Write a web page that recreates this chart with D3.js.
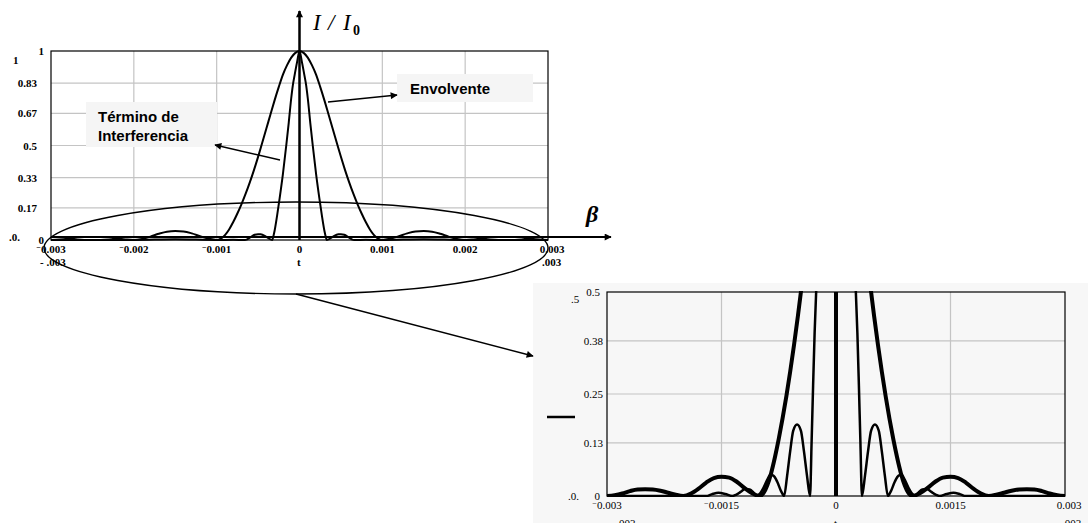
<!DOCTYPE html>
<html>
<head>
<meta charset="utf-8">
<script src="https://cdn.jsdelivr.net/npm/d3@7"></script>
<style>
  body { margin: 0; background: #fff; }
  svg { display: block; }
  .tick { font-family: "Liberation Serif", "DejaVu Serif", serif; font-size: 11px; fill: #000; }
  .bold { font-weight: bold; }
  .note { font-family: "Liberation Sans", Arial, sans-serif; font-size: 15px; font-weight: bold; fill: #000; }
</style>
</head>
<body>
<div id="chart"></div>
<script>
// half curves (x >= 0), mirrored for x < 0 ; x in seconds
var envX = [0, 0.00005, 0.0001, 0.00015, 0.0002, 0.00025, 0.0003, 0.00035, 0.0004, 0.00045, 0.0005, 0.00055, 0.0006, 0.00065, 0.0007, 0.00075, 0.0008, 0.00085, 0.0009, 0.00095, 0.001,
    0.0011, 0.0012, 0.0013, 0.0014, 0.0015, 0.0016, 0.0017, 0.0018, 0.0019, 0.002, 0.0021, 0.0022, 0.0023, 0.0024, 0.0025, 0.0026, 0.0027, 0.0028, 0.0029, 0.003]
var envY = [1, 0.99, 0.965, 0.925, 0.875, 0.81, 0.74, 0.665, 0.59, 0.515, 0.44, 0.37, 0.305, 0.245, 0.19, 0.14, 0.095, 0.056, 0.026, 0.007, 0,
    0.007, 0.02, 0.035, 0.045, 0.047, 0.044, 0.033, 0.018, 0.006, 0, 0.003, 0.008, 0.013, 0.016, 0.0165, 0.016, 0.012, 0.006, 0.002, 0]

// interference term in the main plot
var termX = [0, 0.00003, 0.00006, 0.00008, 0.0001, 0.00013, 0.00016, 0.0002, 0.00024, 0.00027, 0.0003, 0.00032, 0.00033,
    0.00037, 0.00042, 0.00047, 0.0005, 0.00054, 0.00059, 0.00063, 0.00066, 0.0008, 0.001, 0.0015, 0.002, 0.003]
var termY = [1, 0.94, 0.87, 0.82, 0.75, 0.62, 0.5, 0.35, 0.22, 0.13, 0.05, 0.012, 0,
    0.008, 0.022, 0.03, 0.031, 0.028, 0.015, 0.004, 0, 0.001, 0, 0.004, 0, 0]

// interference term in the zoomed plot
var zoomX = [0, 0.0001, 0.00015, 0.0002, 0.00024, 0.00026, 0.00028, 0.0003, 0.00032, 0.00034,
    0.00038, 0.00042, 0.00046, 0.00051, 0.00056, 0.0006, 0.00064, 0.00068,
    0.00072, 0.00077, 0.00082, 0.00086, 0.0009, 0.00095, 0.001, 0.00104,
    0.00108, 0.00113, 0.00119, 0.00125, 0.00131, 0.00136, 0.00145, 0.00154, 0.00163, 0.0017, 0.002, 0.003]
var zoomY = [1, 0.93, 0.85, 0.72, 0.56, 0.5, 0.4, 0.27, 0.13, 0,
    0.05, 0.11, 0.16, 0.175, 0.16, 0.11, 0.05, 0,
    0.012, 0.035, 0.05, 0.052, 0.04, 0.02, 0.005, 0,
    0.008, 0.016, 0.017, 0.01, 0.003, 0, 0.005, 0.008, 0.004, 0, 0, 0]

var mainYTicks = [0, 0.17, 0.33, 0.5, 0.67, 0.83, 1]
var mainYLabels = ["0", "0.17", "0.33", "0.5", "0.67", "0.83", "1"]
var mainXTicks = [-0.003, -0.002, -0.001, 0, 0.001, 0.002, 0.003]
var mainXLabels = ["-0.003", "-0.002", "-0.001", "0", "0.001", "0.002", "0.003"]
var zoomYTicks = [0, 0.13, 0.25, 0.38, 0.5]
var zoomYLabels = ["0", "0.13", "0.25", "0.38", "0.5"]
var zoomXTicks = [-0.003, -0.0015, 0, 0.0015, 0.003]
var zoomXLabels = ["-0.003", "-0.0015", "0", "0.0015", "0.003"]

function mirror(xs, ys) {
    var pts = []
    for (var i = xs.length - 1; i > 0; i--) pts.push([-xs[i], ys[i]])
    for (var j = 0; j < xs.length; j++) pts.push([xs[j], ys[j]])
    return pts
}

var W = 1088, H = 523

var svg = d3.select("#chart").append("svg")
    .attr("width", W)
    .attr("height", H)

var defs = svg.append("defs")
defs.append("marker")
    .attr("id", "arr")
    .attr("viewBox", "0 0 10 10")
    .attr("refX", 9).attr("refY", 5)
    .attr("markerWidth", 9).attr("markerHeight", 7)
    .attr("markerUnits", "userSpaceOnUse")
    .attr("orient", "auto")
    .append("path").attr("d", "M0,0 L10,5 L0,10 Z").attr("fill", "#000")

// zoomed region background
svg.append("rect")
    .attr("x", 533).attr("y", 283)
    .attr("width", W - 533).attr("height", H - 283)
    .attr("fill", "#f7f7f7")

// label with raised minus like the original
function tickLabel(g, txt, x, y, cls) {
    var t = g.append("text").attr("class", cls).attr("x", x).attr("y", y).attr("text-anchor", "middle")
    if (txt[0] === "-") {
        t.append("tspan").attr("font-size", "8px").attr("dy", -3).text("\u2212")
        t.append("tspan").attr("dy", 3).text(txt.slice(1))
    } else {
        t.text(txt)
    }
    return t
}

function drawPlot(opt) {
    var x = d3.scaleLinear().domain([-0.003, 0.003]).range([opt.left, opt.right])
    var y = d3.scaleLinear().domain([0, opt.ymax]).range([opt.bottom, opt.top])
    var g = svg.append("g")

    g.append("rect")
        .attr("x", opt.left).attr("y", opt.top)
        .attr("width", opt.right - opt.left).attr("height", opt.bottom - opt.top)
        .attr("fill", opt.bg)

    g.selectAll(".hg").data(opt.yTicks.slice(1, -1)).enter().append("line")
        .attr("x1", opt.left).attr("x2", opt.right)
        .attr("y1", function (d) { return y(d) }).attr("y2", function (d) { return y(d) })
        .attr("stroke", "#c4c4c4").attr("stroke-width", 1.2)

    g.selectAll(".vg").data(opt.xGrid).enter().append("line")
        .attr("x1", function (d) { return x(d) }).attr("x2", function (d) { return x(d) })
        .attr("y1", opt.top).attr("y2", opt.bottom)
        .attr("stroke", "#c4c4c4").attr("stroke-width", 1.2)

    g.append("rect")
        .attr("x", opt.left).attr("y", opt.top)
        .attr("width", opt.right - opt.left).attr("height", opt.bottom - opt.top)
        .attr("fill", "none").attr("stroke", "#000").attr("stroke-width", 1.2)

    g.append("defs").append("clipPath").attr("id", opt.id)
        .append("rect")
        .attr("x", opt.left).attr("y", opt.top - 1)
        .attr("width", opt.right - opt.left).attr("height", opt.bottom - opt.top + 2)

    var line = d3.line()
        .x(function (d) { return x(d[0]) })
        .y(function (d) { return y(d[1]) })
        .curve(d3.curveMonotoneX)

    var cg = g.append("g").attr("clip-path", "url(#" + opt.id + ")")
    opt.series.forEach(function (s) {
        cg.append("path")
            .attr("d", line(s.pts))
            .attr("fill", "none")
            .attr("stroke", "#000")
            .attr("stroke-width", s.w)
            .attr("stroke-linejoin", "round")
    })

    // y labels
    opt.yTicks.forEach(function (v, i) {
        var ends = (i === 0 || i === opt.yTicks.length - 1)
        g.append("text").attr("class", opt.cls)
            .attr("x", ends ? opt.left - 7 : opt.left - 14 + opt.ySh)
            .attr("y", y(v) + 4)
            .attr("text-anchor", "end")
            .text(opt.yLabels[i])
    })
    // x labels
    opt.xTicks.forEach(function (v, i) {
        tickLabel(g, opt.xLabels[i], x(v) + (i === opt.xTicks.length - 1 ? 4 : 0), opt.bottom + 13, opt.cls)
    })
    return { x: x, y: y, g: g }
}

// main plot
var main = drawPlot({
    id: "clipMain", left: 51, right: 548, top: 51, bottom: 240, ymax: 1, bg: "#fff",
    yTicks: mainYTicks, yLabels: mainYLabels, xTicks: mainXTicks, xLabels: mainXLabels,
    xGrid: [-0.002, -0.001, 0.001, 0.002], cls: "tick bold", ySh: 0,
    series: [
        { pts: mirror(envX, envY), w: 2 },
        { pts: mirror(termX, termY), w: 2 }
    ]
})

// zoomed plot
var zoom = drawPlot({
    id: "clipZoom", left: 607, right: 1065, top: 292, bottom: 496, ymax: 0.5, bg: "#f7f7f7",
    yTicks: zoomYTicks, yLabels: zoomYLabels, xTicks: zoomXTicks, xLabels: zoomXLabels,
    xGrid: [-0.0015, 0.0015], cls: "tick", ySh: 10,
    series: [
        { pts: mirror(envX, envY), w: 4 },
        { pts: mirror(zoomX, zoomY), w: 2.5 }
    ]
})
zoom.g.append("line")
    .attr("x1", zoom.x(0)).attr("x2", zoom.x(0))
    .attr("y1", zoom.y(0)).attr("y2", zoom.y(0.5))
    .attr("stroke", "#000").attr("stroke-width", 4)

// axis arrows of the main plot
svg.append("line")
    .attr("x1", main.x(-0.003)).attr("x2", 611)
    .attr("y1", 237).attr("y2", 237)
    .attr("stroke", "#000").attr("stroke-width", 2)
    .attr("marker-end", "url(#arr)")
svg.append("line")
    .attr("x1", main.x(0)).attr("x2", main.x(0))
    .attr("y1", 240).attr("y2", 11)
    .attr("stroke", "#000").attr("stroke-width", 2.5)
    .attr("marker-end", "url(#arr)")

var lab = svg.append("g")
    .attr("font-family", "Liberation Serif, serif")
    .attr("font-size", 23).attr("font-style", "italic")
lab.append("text").attr("x", 313).attr("y", 30).text("I")
lab.append("text").attr("x", 328).attr("y", 30).text("/")
lab.append("text").attr("x", 343).attr("y", 30).text("I")
lab.append("text").attr("x", 353).attr("y", 35)
    .attr("font-size", 14).attr("font-style", "normal").attr("font-weight", "bold").text("0")

svg.append("text")
    .attr("x", 586).attr("y", 222)
    .attr("font-family", "Liberation Serif, serif")
    .attr("font-size", 24).attr("font-style", "italic").attr("font-weight", "bold")
    .text("\u03B2")

// annotations
svg.append("rect").attr("x", 86).attr("y", 102).attr("width", 131).attr("height", 45).attr("fill", "#f5f5f5")
svg.append("text").attr("class", "note").attr("x", 98).attr("y", 122).text("Término de")
svg.append("text").attr("class", "note").attr("x", 98).attr("y", 141).text("Interferencia")
svg.append("line")
    .attr("x1", 280).attr("y1", 160).attr("x2", 215).attr("y2", 145)
    .attr("stroke", "#000").attr("stroke-width", 1.3).attr("marker-end", "url(#arr)")

svg.append("rect").attr("x", 397).attr("y", 74).attr("width", 136).attr("height", 28).attr("fill", "#f5f5f5")
svg.append("text").attr("class", "note").attr("x", 410).attr("y", 94).text("Envolvente")
svg.append("line")
    .attr("x1", 328).attr("y1", 102).attr("x2", 397).attr("y2", 95)
    .attr("stroke", "#000").attr("stroke-width", 1.3).attr("marker-end", "url(#arr)")

// ellipse around the base and pointer to the zoom
svg.append("ellipse")
    .attr("cx", 296).attr("cy", 248).attr("rx", 252).attr("ry", 46)
    .attr("fill", "none").attr("stroke", "#000").attr("stroke-width", 1.4)
svg.append("line")
    .attr("x1", 296).attr("y1", 294).attr("x2", 533).attr("y2", 356)
    .attr("stroke", "#000").attr("stroke-width", 1.4).attr("marker-end", "url(#arr)")

// stray Mathcad labels
var stray = [
    { t: "1", x: 13, y: 64, c: "tick bold" },
    { t: ".0.", x: 9, y: 241, c: "tick bold" },
    { t: "- .003", x: 40, y: 266, c: "tick bold" },
    { t: "t", x: 297, y: 266, c: "tick bold" },
    { t: ".003", x: 542, y: 266, c: "tick bold" },
    { t: ".5", x: 571, y: 303, c: "tick" },
    { t: ".0.", x: 568, y: 500, c: "tick" },
    { t: "003", x: 619, y: 527, c: "tick" },
    { t: "t", x: 834, y: 527, c: "tick" },
    { t: ".003", x: 1062, y: 527, c: "tick" }
]
stray.forEach(function (s) {
    svg.append("text").attr("class", s.c).attr("x", s.x).attr("y", s.y).text(s.t)
})
svg.append("line")
    .attr("x1", 547).attr("x2", 575).attr("y1", 417).attr("y2", 417)
    .attr("stroke", "#000").attr("stroke-width", 2.5)
</script>
</body>
</html>
